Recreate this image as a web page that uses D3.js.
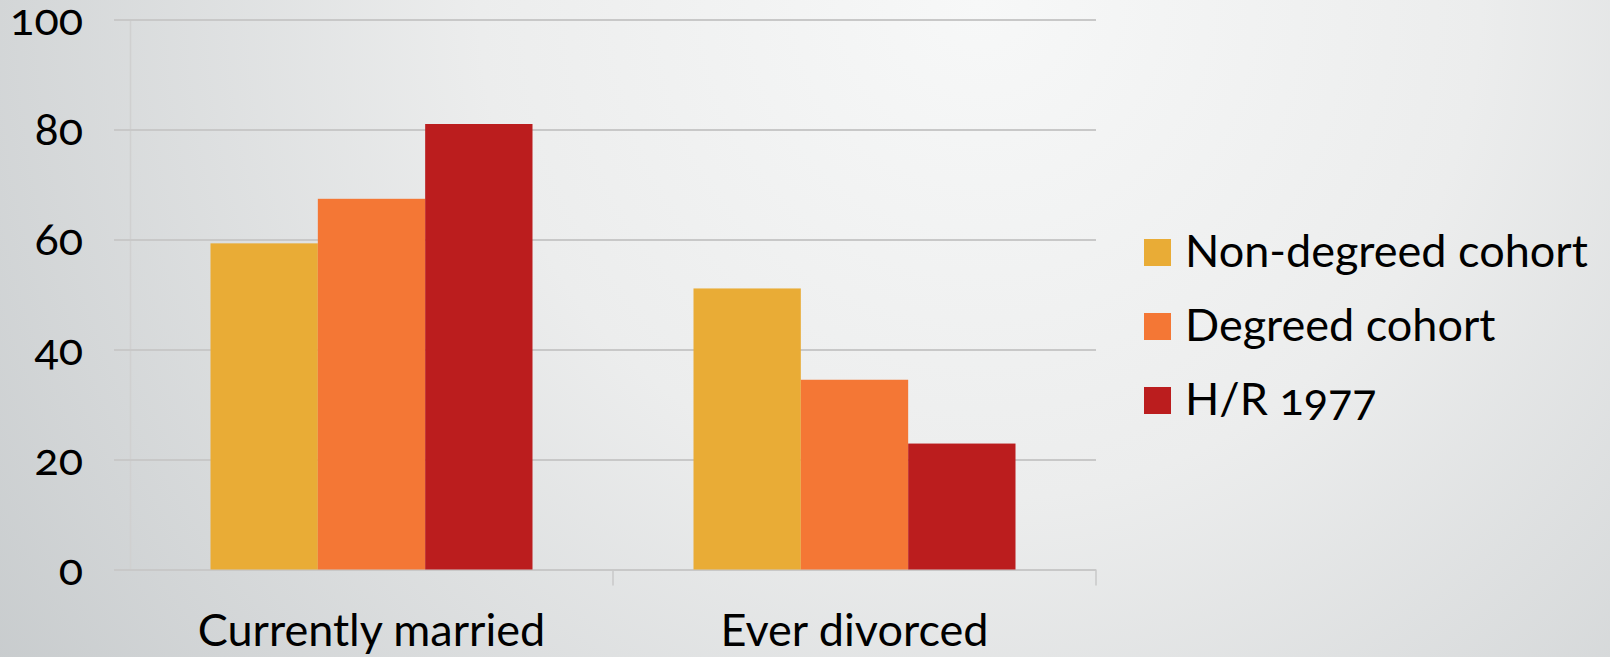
<!DOCTYPE html>
<html>
<head>
<meta charset="utf-8">
<script src="https://cdn.jsdelivr.net/npm/d3@7"></script>
<style>
  html, body { margin: 0; padding: 0; overflow: hidden; }
  body { width: 1610px; height: 657px; }
  text { font-family: Lato, "Open Sans", sans-serif; fill: #000; font-variant-numeric: oldstyle-nums; }
</style>
</head>
<body>
<div id="chart"></div>
<script>
var categories = ["Currently married", "Ever divorced"];
var seriesNames = ["Non-degreed cohort", "Degreed cohort", "H/R 1977"];
var nonDegreed = [59.3, 51.1];
var degreed = [67.4, 34.5];
var hr1977 = [81.0, 22.9];
var yTicks = [0, 20, 40, 60, 80, 100];
var colors = ["#e9ac36", "#f47735", "#bb1d1e"];

function init() {
    var w = 1610, h = 657;
    var margin = { top: 19.5, right: 514, bottom: 87.5, left: 130 };
    var fontSize = 45;

    var series = [nonDegreed, degreed, hr1977];
    var rows = categories.map((c, i) => ({
        category: c,
        values: seriesNames.map((s, j) => ({ name: s, value: series[j][i] }))
    }));

    var svg = d3.select("#chart").append("svg")
        .attr("width", w)
        .attr("height", h);

    // background
    var defs = svg.append("defs");
    var grad = defs.append("radialGradient")
        .attr("id", "bg")
        .attr("gradientUnits", "userSpaceOnUse")
        .attr("cx", 980).attr("cy", 0).attr("r", 1250);
    grad.append("stop").attr("offset", "0%").attr("stop-color", "#f7f8f8");
    grad.append("stop").attr("offset", "40%").attr("stop-color", "#eceded");
    grad.append("stop").attr("offset", "100%").attr("stop-color", "#c5c9cb");
    svg.append("rect").attr("width", w).attr("height", h).attr("fill", "url(#bg)");

    var x0 = d3.scaleBand()
        .domain(categories)
        .range([margin.left, w - margin.right])
        .paddingInner(0)
        .paddingOuter(0);
    var x1 = d3.scaleBand()
        .domain(seriesNames)
        .range([x0.bandwidth() / 6, x0.bandwidth() * 5 / 6]);
    var y = d3.scaleLinear().domain([0, 100]).range([h - margin.bottom, margin.top]);

    // grid lines with outward ticks
    var yAxis = svg.append("g")
        .attr("transform", `translate(${margin.left},0)`)
        .call(d3.axisLeft(y).tickValues(yTicks).tickSize(-(w - margin.right - margin.left)).tickSizeOuter(0).tickFormat(""));
    yAxis.select(".domain").attr("stroke", "#d0d0d0").attr("stroke-width", 1.5);
    yAxis.selectAll(".tick line")
        .attr("x1", -16)
        .attr("stroke", "#c8c8c8")
        .attr("stroke-width", 2);

    // y labels
    svg.append("g").selectAll("text")
        .data(yTicks)
        .enter().append("text")
        .attr("x", 83)
        .attr("y", d => y(d) + 15)
        .attr("text-anchor", "end")
        .style("font-size", fontSize + "px")
        .text(d => d);

    // category tick marks below baseline
    var xAxis = svg.append("g")
        .attr("transform", `translate(0,${y(0)})`)
        .call(d3.axisBottom(x0).tickSize(0).tickFormat(""));
    xAxis.select(".domain").remove();
    var edges = categories.map(c => x0(c) + x0.bandwidth());
    xAxis.selectAll(".edge")
        .data(edges)
        .enter().append("line")
        .attr("class", "edge")
        .attr("x1", d => d).attr("x2", d => d)
        .attr("y1", 0).attr("y2", 16)
        .attr("stroke", "#c8c8c8")
        .attr("stroke-width", 1.5);

    // bars
    var groups = svg.append("g").selectAll("g")
        .data(rows)
        .enter().append("g")
        .attr("transform", d => `translate(${x0(d.category)},0)`);
    groups.selectAll("rect")
        .data(d => d.values)
        .enter().append("rect")
        .attr("x", d => x1(d.name))
        .attr("y", d => y(d.value))
        .attr("width", x1.bandwidth())
        .attr("height", d => y(0) - y(d.value))
        .attr("fill", (d, i) => colors[i]);

    // category labels
    svg.append("g").selectAll("text")
        .data(categories)
        .enter().append("text")
        .attr("x", d => x0(d) + x0.bandwidth() / 2)
        .attr("y", 646)
        .attr("text-anchor", "middle")
        .style("font-size", fontSize + "px")
        .text(d => d);

    // legend
    var legend = svg.append("g").selectAll("g")
        .data(seriesNames)
        .enter().append("g")
        .attr("transform", (d, i) => `translate(1144,${239 + i * 74})`);
    legend.append("rect")
        .attr("width", 27).attr("height", 27)
        .attr("fill", (d, i) => colors[i]);
    legend.append("text")
        .attr("x", 41)
        .attr("y", 28)
        .style("font-size", fontSize + "px")
        .text(d => d);
}

window.onload = init;
</script>
</body>
</html>
